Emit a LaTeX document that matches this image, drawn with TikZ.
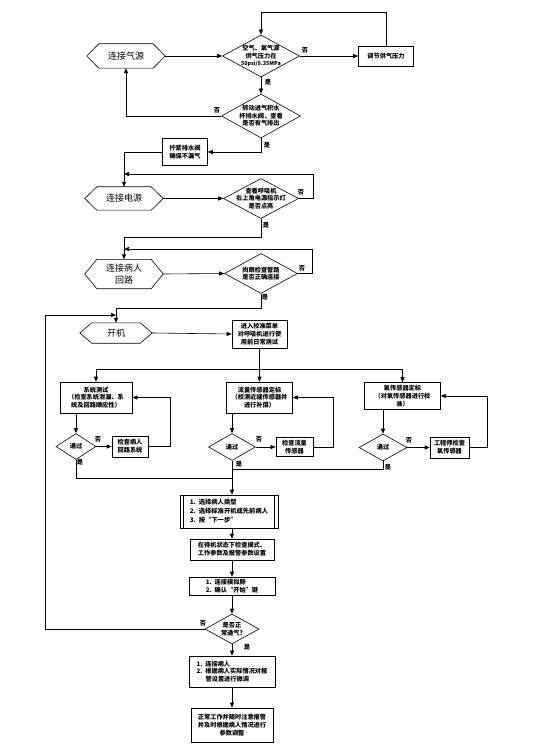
\documentclass[tikz,border=0pt]{standalone}
\usepackage{fontspec}
\setmainfont{Noto Sans CJK SC}
\usetikzlibrary{shapes.geometric,arrows.meta,calc}
\newcommand\hexdraw[1]{\draw[ln] (#1.west) -- ([xshift=12pt]#1.north west) -- ([xshift=-12pt]#1.north east) -- (#1.east) -- ([xshift=-12pt]#1.south east) -- ([xshift=12pt]#1.south west) -- cycle;}
\begin{document}
\begin{tikzpicture}[x=1pt,y=-1pt,
 ln/.style={draw=black,line width=0.6pt},
 arr/.style={ln,-{Triangle[length=5pt,width=4pt]}},
 box/.style={draw=black,line width=0.6pt,rectangle,inner sep=1pt,align=center,font=\fontsize{6.2}{7.8}\selectfont\bfseries},
 dia/.style={draw=black,line width=0.6pt,diamond,inner sep=0pt},
 dtxt/.style={inner sep=0pt,align=center,font=\fontsize{6.2}{7.6}\selectfont\bfseries},
 hex/.style={rectangle,inner sep=0pt,align=center,font=\fontsize{9}{11.5}\selectfont},
 yn/.style={inner sep=0pt,font=\fontsize{6.2}{7}\selectfont\bfseries},
]
\useasboundingbox[fill=white] (0,0) rectangle (546,751);

% ---- nodes ----
\node[hex,minimum width=78pt,minimum height=24pt] (h1) at (126,56) {连接气源};
\hexdraw{h1}
\node[dia,minimum width=77pt,minimum height=42pt,label={[dtxt]center:{空气、氧气源\\供气压力在\\{\fontsize{5.4}{7}\selectfont 50psi/0.35MPa}}}] (d1) at (261,56) {};
\node[box,minimum width=55pt,minimum height=20pt] (b1) at (386,56) {调节供气压力};
\node[dia,minimum width=79pt,minimum height=44pt,label={[dtxt]center:{转动进气积水\\杯排水阀，查看\\是否有气排出}}] (d2) at (261,116) {};
\node[box,minimum width=45pt,minimum height=27pt] (b2) at (185,152) {拧紧排水阀\\确保不漏气};
\node[hex,minimum width=78pt,minimum height=23pt] (h2) at (124,198.5) {连接电源};
\hexdraw{h2}
\node[dia,minimum width=75pt,minimum height=40pt,label={[dtxt]center:{查看呼吸机\\右上角电源指示灯\\是否点亮}}] (d3) at (261,198.5) {};
\node[hex,minimum width=78pt,minimum height=29pt] (h3) at (124,274) {连接病人\\回路};
\hexdraw{h3}
\node[dia,minimum width=73pt,minimum height=40pt,label={[dtxt]center:{肉眼检查管路\\是否正确连接}}] (d4) at (261,273.5) {};
\node[hex,minimum width=72pt,minimum height=20pt] (h4) at (116,333) {开机};
\hexdraw{h4}
\node[box,minimum width=55pt,minimum height=28pt] (b3) at (259.5,334) {进入校准菜单\\对呼吸机进行使\\用前日常测试};

\node[box,minimum width=72pt,minimum height=31pt] (s1) at (96,397.5) {系统测试\\（检查系统泄漏、系\\统及回路顺应性）};
\node[dia,minimum width=40pt,minimum height=26pt,label={[dtxt]center:{通过}}] (s1d) at (76,446.5) {};
\node[box,minimum width=36pt,minimum height=21pt] (s1b) at (130,446.5) {检查病人\\回路系统};

\node[box,minimum width=66pt,minimum height=31pt] (s2) at (259.5,397.5) {流量传感器定标\\（校测近端传感器并\\进行补偿）};
\node[dia,minimum width=47pt,minimum height=27pt,label={[dtxt]center:{通过}}] (s2d) at (232,447) {};
\node[box,minimum width=37pt,minimum height=19pt] (s2b) at (294.5,447) {检查流量\\传感器};

\node[box,minimum width=76pt,minimum height=27pt] (s3) at (402.5,396) {氧传感器定标\\（对氧传感器进行校\\准）};
\node[dia,minimum width=48pt,minimum height=27pt,label={[dtxt]center:{通过}}] (s3d) at (383,447.5) {};
\node[box,minimum width=39pt,minimum height=21pt] (s3b) at (449.5,447.5) {工程师检查\\氧传感器};

\node[box,minimum width=98pt,minimum height=33pt,align=left,font=\fontsize{6.3}{9}\selectfont\bfseries] (L1) at (229,511.5) {1.\ \ 选择病人类型\\2.\ \ 选择标准开机或先前病人\\3.\ \ 按“下一步”};
\draw[ln] ([xshift=4pt]L1.north west) -- ([xshift=4pt]L1.south west);
\draw[ln] ([xshift=-4pt]L1.north east) -- ([xshift=-4pt]L1.south east);
\node[box,minimum width=84pt,minimum height=21pt] (L2) at (232,549.5) {在待机状态下检查模式、\\工作参数及报警参数设置};
\node[box,minimum width=86pt,minimum height=18pt,align=left] (L3) at (232,586) {1.\ \ 连接模拟肺\\2.\ \ 确认“开始”键};
\node[dia,minimum width=54pt,minimum height=30pt,label={[dtxt]center:{是否正\\常通气?}}] (d5) at (232,629) {};
\node[box,minimum width=86pt,minimum height=31pt,align=left] (L4) at (232,671.5) {1.\ \ 连接病人\\2.\ \ 根据病人实际情况对报\\\hspace*{9pt}警设置进行微调};
\node[box,minimum width=82pt,minimum height=34pt] (L5) at (232,725) {正常工作并随时注意报警\\并及时根据病人情况进行\\参数调整};

% ---- yes/no labels ----
\node[yn] (n1) at (305,50) {否};
\node[yn] (y1) at (268,82) {是};
\node[yn] (n2) at (217,110) {否};
\node[yn] (y2) at (267,145) {是};
\node[yn] (n3) at (301,192) {否};
\node[yn] (y3) at (266,225) {是};
\node[yn] (n4) at (302,268) {否};
\node[yn] (y4) at (265,297) {是};
\node[yn] (n5) at (98,439) {否};
\node[yn] (y5) at (80,462) {是};
\node[yn] (n6) at (259,439) {否};
\node[yn] (y6) at (239,464) {是};
\node[yn] (n7) at (409,440) {否};
\node[yn] (y7) at (388,467) {是};
\node[yn] (n8) at (203,623) {否};
\node[yn] (y8) at (247,647) {是};

% ---- helper coordinates ----
\coordinate (ytop) at (0,12);
\coordinate (xr3) at (313,174);
\coordinate (ya) at (0,237);
\coordinate (xr4) at (312,249);
\coordinate (yb) at (0,308);
\coordinate (xl) at (45,315);
\coordinate (yc) at (0,369);
\coordinate (xs1) at (170,0);
\coordinate (xs2) at (333,0);
\coordinate (xs3) at (487,0);
\coordinate (ym) at (0,478);
\coordinate (ym2) at (0,469);

% ---- connectors ----
\draw[arr] (h1.east) -- (d1.west);
\draw[arr] (d1.east) -- (b1.west);
\draw[arr] (b1.north) -- (b1.north |- ytop) -| (d1.north);
\draw[arr] (d1.south) -- (d2.north);
\draw[arr] (d2.west) -| (h1.south);
\draw[arr] (d2.south) |- (b2.east);
\draw[arr] (b2.west) -| (h2.north);
\draw[arr] (d3.east) -| (xr3) -- (h2.north |- xr3);
\draw[arr] (h2.east) -- (d3.west);
\draw[arr] (d3.south) -- (d3.south |- ya) -| (h3.north);
\draw[arr] (d4.east) -| (xr4) -- (h3.north |- xr4);
\draw[arr] (h3.east) -- (d4.west);
\draw[arr] (d4.south) -- (d4.south |- yb) -| (h4.north);
\draw[arr] (d5.west) -| (xl) -- (h4.north |- xl);
\draw[arr] (h4.east) -- (b3.west);
\draw[ln] (b3.south) -- (b3.south |- yc);
\draw[ln] (s1.north |- yc) -- (s3.north |- yc);
\draw[arr] (s1.north |- yc) -- (s1.north);
\draw[arr] (s2.north |- yc) -- (s2.north);
\draw[arr] (s3.north |- yc) -- (s3.north);

\draw[arr] (s1d.north |- s1.south) -- (s1d.north);
\draw[arr] (s1d.east) -- (s1b.west);
\draw[arr] (s1b.east) -| (xs1 |- s1.east) -- (s1.east);
\draw[arr] (s2d.north |- s2.south) -- (s2d.north);
\draw[arr] (s2d.east) -- (s2b.west);
\draw[arr] (s2b.east) -| (xs2 |- s2.east) -- (s2.east);
\draw[arr] (s3d.north |- s3.south) -- (s3d.north);
\draw[arr] (s3d.east) -- (s3b.west);
\draw[arr] (s3b.east) -| (xs3 |- s3.east) -- (s3.east);

\draw[ln] (s1d.south) |- (s2d.south |- ym);
\draw[ln] (s3d.south) |- (s2d.south |- ym2);
\draw[arr] (s2d.south) -- (s2d.south |- L1.north);
\draw[arr] (L2.north |- L1.south) -- (L2.north);
\draw[arr] (L2.south) -- (L3.north);
\draw[arr] (L3.south) -- (d5.north);
\draw[arr] (d5.south) -- (L4.north);
\draw[arr] (L4.south) -- (L5.north);
\end{tikzpicture}
\end{document}
